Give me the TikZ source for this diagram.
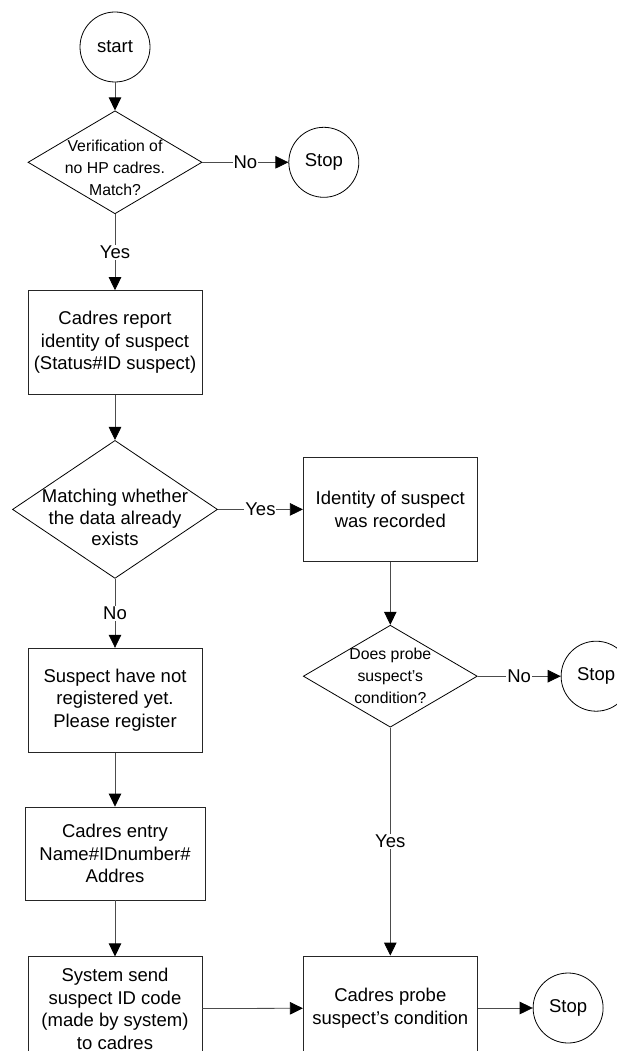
\documentclass[tikz,border=0pt]{standalone}
\usepackage{fontspec}
\setmainfont{Liberation Sans}
\usetikzlibrary{arrows.meta, positioning, shapes.geometric}
\tikzset{
flowbox/.style={draw=black!85, line width=0.8pt, align=center, minimum width=174pt,
  minimum height=104pt, inner sep=2pt, font=\fontsize{18.5}{22.5}\selectfont},
flowend/.style={circle, draw=black, line width=0.8pt, minimum size=70pt, inner sep=0pt,
  font=\fontsize{18.5}{22}\selectfont},
decision/.style={diamond, draw=black, line width=0.8pt, inner sep=0pt},
decisiontext/.style={align=center, inner sep=0pt, font=\fontsize{15.8}{22}\selectfont},
flowarrow/.style={-{Triangle[length=13pt, width=12.5pt, color=black]}, draw=black!70, line width=0.8pt},
flowlabel/.style={fill=white, inner sep=1pt, font=\fontsize{18.5}{22}\selectfont}
}
\begin{document}
\begin{tikzpicture}[x=1pt, y=1pt]
\useasboundingbox (0,0) rectangle (617,-1051);

% left column
\node[flowend] (start) at (115,-47) {start};
\node[decision, minimum width=174pt, minimum height=103pt, below=28pt of start] (verify) {};
\node[decisiontext, yshift=-6pt] (verifytext) at (verify) {Verification of\\no HP cadres.\\Match?};
\node[flowend, right=86pt of verify] (stopA) {Stop};
\node[flowbox, below=76pt of verify] (report) {Cadres report\\identity of suspect\\(Status\#ID suspect)};
\node[decision, minimum width=205pt, minimum height=138pt, below=45pt of report] (exists) {};
\node[decisiontext, font=\fontsize{18.5}{21.5}\selectfont, yshift=-8pt] (existstext) at (exists) {Matching whether\\the data already\\exists};
\node[flowbox, below=69pt of exists] (register) {Suspect have not\\registered yet.\\Please register};
\node[flowbox, minimum width=180pt, minimum height=93pt, below=54pt of register] (entry) {Cadres entry\\Name\#IDnumber\#\\Addres};
\node[flowbox, below=56pt of entry] (sendcode) {System send\\suspect ID code\\(made by system)\\to cadres};

% right column
\node[flowbox, right=85pt of exists] (recorded) {Identity of suspect\\was recorded};
\node[decision, minimum width=174pt, minimum height=102pt, below=63pt of recorded] (probeq) {};
\node[decisiontext] (probeqtext) at (probeq) {Does probe\\suspect’s\\condition?};
\node[flowend, right=83pt of probeq] (stopB) {Stop};
\node[flowbox, below=228pt of probeq] (probe) {Cadres probe\\suspect’s condition};
\node[flowend, right=55pt of probe] (stopC) {Stop};

% connectors
\draw[flowarrow] (start) -- (verify);
\draw[flowarrow] (verify) -- node[flowlabel] (noA) {No} (stopA);
\draw[flowarrow] (verify) -- node[flowlabel] (yesA) {Yes} (report);
\draw[flowarrow] (report) -- (exists);
\draw[flowarrow] (exists) -- node[flowlabel] (yesB) {Yes} (recorded);
\draw[flowarrow] (exists) -- node[flowlabel] (noB) {No} (register);
\draw[flowarrow] (register) -- (entry);
\draw[flowarrow] (entry) -- (sendcode);
\draw[flowarrow] (recorded) -- (probeq);
\draw[flowarrow] (probeq) -- node[flowlabel] (noC) {No} (stopB);
\draw[flowarrow] (probeq) -- node[flowlabel] (yesC) {Yes} (probe);
\draw[flowarrow] (sendcode) -- (probe);
\draw[flowarrow] (probe) -- (stopC);
\end{tikzpicture}
\end{document}
